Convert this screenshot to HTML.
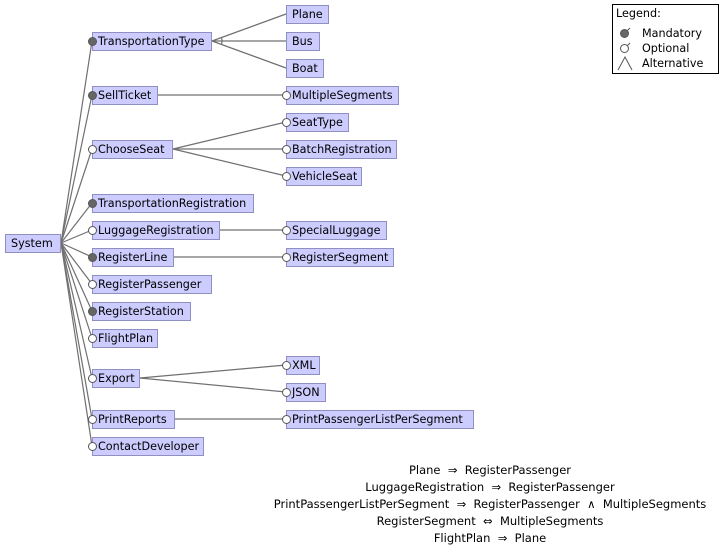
<!DOCTYPE html>
<html><head><meta charset="utf-8"><style>
html,body{margin:0;padding:0;background:#fff;}
svg{display:block;}
text{font-family:"DejaVu Sans","Liberation Sans",sans-serif;font-size:11.2px;fill:#000;}
.c text{white-space:pre;font-size:11.5px;}
.b{fill:#ccccff;stroke:#8f8fc2;stroke-width:1;}
.l{stroke:#707070;stroke-width:1.2;fill:none;}
.m{fill:#666;stroke:#555;stroke-width:1;}
.o{fill:#fff;stroke:#555;stroke-width:1;}
</style></head><body>
<svg width="721" height="549" viewBox="0 0 721 549" xmlns="http://www.w3.org/2000/svg">
<g class="l">
<line x1="61" y1="243" x2="92" y2="41"/>
<line x1="61" y1="243" x2="92" y2="95"/>
<line x1="61" y1="243" x2="92" y2="149"/>
<line x1="61" y1="243" x2="92" y2="203"/>
<line x1="61" y1="243" x2="92" y2="230"/>
<line x1="61" y1="243" x2="92" y2="257"/>
<line x1="61" y1="243" x2="92" y2="284"/>
<line x1="61" y1="243" x2="92" y2="311"/>
<line x1="61" y1="243" x2="92" y2="338"/>
<line x1="61" y1="243" x2="92" y2="378"/>
<line x1="61" y1="243" x2="92" y2="419"/>
<line x1="61" y1="243" x2="92" y2="446"/>
<line x1="212" y1="41" x2="286" y2="14"/>
<line x1="212" y1="41" x2="286" y2="41"/>
<line x1="212" y1="41" x2="286" y2="68"/>
<path d="M221.5 37.8 A10 10 0 0 1 221.5 44.2"/>
<line x1="158" y1="95" x2="286" y2="95"/>
<line x1="173" y1="149" x2="286" y2="122"/>
<line x1="173" y1="149" x2="286" y2="149"/>
<line x1="173" y1="149" x2="286" y2="176"/>
<line x1="220" y1="230" x2="286" y2="230"/>
<line x1="174" y1="257" x2="286" y2="257"/>
<line x1="140" y1="378" x2="286" y2="365"/>
<line x1="140" y1="378" x2="286" y2="392"/>
<line x1="175" y1="419" x2="286" y2="419"/>
</g>
<rect class="b" x="5.5" y="234.5" width="55" height="18"/><text x="11" y="247">System</text>
<rect class="b" x="92.5" y="32.5" width="119" height="18"/><text x="98" y="45">TransportationType</text>
<rect class="b" x="92.5" y="86.5" width="65" height="18"/><text x="98" y="99">SellTicket</text>
<rect class="b" x="92.5" y="140.5" width="80" height="18"/><text x="98" y="153">ChooseSeat</text>
<rect class="b" x="92.5" y="194.5" width="161" height="18"/><text x="98" y="207">TransportationRegistration</text>
<rect class="b" x="92.5" y="221.5" width="127" height="18"/><text x="98" y="234">LuggageRegistration</text>
<rect class="b" x="92.5" y="248.5" width="81" height="18"/><text x="98" y="261">RegisterLine</text>
<rect class="b" x="92.5" y="275.5" width="119" height="18"/><text x="98" y="288">RegisterPassenger</text>
<rect class="b" x="92.5" y="302.5" width="98" height="18"/><text x="98" y="315">RegisterStation</text>
<rect class="b" x="92.5" y="329.5" width="65" height="18"/><text x="98" y="342">FlightPlan</text>
<rect class="b" x="92.5" y="369.5" width="47" height="18"/><text x="98" y="382">Export</text>
<rect class="b" x="92.5" y="410.5" width="82" height="18"/><text x="98" y="423">PrintReports</text>
<rect class="b" x="92.5" y="437.5" width="111" height="18"/><text x="98" y="450">ContactDeveloper</text>
<rect class="b" x="286.5" y="5.5" width="42" height="18"/><text x="292" y="18">Plane</text>
<rect class="b" x="286.5" y="32.5" width="33" height="18"/><text x="292" y="45">Bus</text>
<rect class="b" x="286.5" y="59.5" width="37" height="18"/><text x="292" y="72">Boat</text>
<rect class="b" x="286.5" y="86.5" width="112" height="18"/><text x="292" y="99">MultipleSegments</text>
<rect class="b" x="286.5" y="113.5" width="62" height="18"/><text x="292" y="126">SeatType</text>
<rect class="b" x="286.5" y="140.5" width="110" height="18"/><text x="292" y="153">BatchRegistration</text>
<rect class="b" x="286.5" y="167.5" width="75" height="18"/><text x="292" y="180">VehicleSeat</text>
<rect class="b" x="286.5" y="221.5" width="100" height="18"/><text x="292" y="234">SpecialLuggage</text>
<rect class="b" x="286.5" y="248.5" width="107" height="18"/><text x="292" y="261">RegisterSegment</text>
<rect class="b" x="286.5" y="356.5" width="33" height="18"/><text x="292" y="369">XML</text>
<rect class="b" x="286.5" y="383.5" width="39" height="18"/><text x="292" y="396">JSON</text>
<rect class="b" x="286.5" y="410.5" width="187" height="18"/><text x="292" y="423">PrintPassengerListPerSegment</text>
<circle class="m" cx="92.5" cy="41.5" r="4"/>
<circle class="m" cx="92.5" cy="95.5" r="4"/>
<circle class="o" cx="92.5" cy="149.5" r="4"/>
<circle class="m" cx="92.5" cy="203.5" r="4"/>
<circle class="o" cx="92.5" cy="230.5" r="4"/>
<circle class="m" cx="92.5" cy="257.5" r="4"/>
<circle class="o" cx="92.5" cy="284.5" r="4"/>
<circle class="m" cx="92.5" cy="311.5" r="4"/>
<circle class="o" cx="92.5" cy="338.5" r="4"/>
<circle class="o" cx="92.5" cy="378.5" r="4"/>
<circle class="o" cx="92.5" cy="419.5" r="4"/>
<circle class="o" cx="92.5" cy="446.5" r="4"/>
<circle class="o" cx="286.5" cy="95.5" r="4"/>
<circle class="o" cx="286.5" cy="122.5" r="4"/>
<circle class="o" cx="286.5" cy="149.5" r="4"/>
<circle class="o" cx="286.5" cy="176.5" r="4"/>
<circle class="o" cx="286.5" cy="230.5" r="4"/>
<circle class="o" cx="286.5" cy="257.5" r="4"/>
<circle class="o" cx="286.5" cy="365.5" r="4"/>
<circle class="o" cx="286.5" cy="392.5" r="4"/>
<circle class="o" cx="286.5" cy="419.5" r="4"/>
<rect x="612.5" y="4.5" width="106" height="69" fill="#fff" stroke="#000" stroke-width="1"/>
<text x="616" y="17">Legend:</text>
<line x1="625" y1="33" x2="630" y2="28" stroke="#555"/>
<circle class="m" cx="624.5" cy="33.5" r="4"/>
<text x="642" y="37">Mandatory</text>
<line x1="625" y1="48" x2="630" y2="43" stroke="#555"/>
<circle class="o" cx="624.5" cy="48.5" r="4"/>
<text x="642" y="52">Optional</text>
<path d="M618 70 L625 57 L632 70" fill="none" stroke="#555"/>
<text x="642" y="67">Alternative</text>
<g class="c" text-anchor="middle" xml:space="preserve">
<text x="490" y="474">Plane  ⇒  RegisterPassenger</text>
<text x="490" y="491">LuggageRegistration  ⇒  RegisterPassenger</text>
<text x="490" y="508">PrintPassengerListPerSegment  ⇒  RegisterPassenger  ∧  MultipleSegments</text>
<text x="490" y="525">RegisterSegment  ⇔  MultipleSegments</text>
<text x="490" y="542">FlightPlan  ⇒  Plane</text>
</g>
</svg>
</body></html>
